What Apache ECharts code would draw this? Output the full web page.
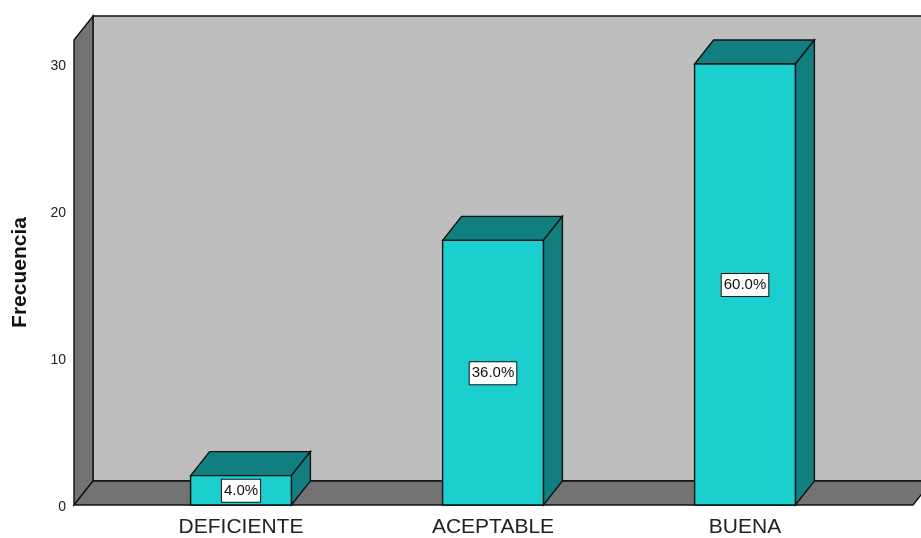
<!DOCTYPE html>
<html>
<head>
<meta charset="utf-8">
<style>html,body{margin:0;padding:0;background:#fff}#c{width:921px;height:538px}</style>
<script src="https://cdn.jsdelivr.net/npm/echarts@6/dist/echarts.min.js"></script>
</head>
<body>
<div id="c"></div>
<script>
const categories = ['DEFICIENTE', 'ACEPTABLE', 'BUENA'];
const frequencies = [2, 18, 30];
const percentLabels = ['4.0%', '36.0%', '60.0%'];
const yTicks = [0, 10, 20, 30];

const FONT = '"Liberation Sans", Arial, sans-serif';
const DX = 19, DY = -24, FLOOR_PAD = 41;
const INK = '#111111', LW = 1.4;
const wallDark = '#737373', wallBack = '#bebebe';
const faceFront = '#1bcfcf', faceDark = '#117f7f';

function poly(points, fill, z2) {
  return { type: 'polygon', z2: z2 || 0, shape: { points }, style: { fill, stroke: INK, lineWidth: LW, lineJoin: 'miter' } };
}

function renderRoom(params, api) {
  const cs = params.coordSys;
  const y0 = api.coord([0, 0])[1];
  const yTop = cs.y;
  const xl = cs.x - FLOOR_PAD;
  const xr = cs.x + cs.width + FLOOR_PAD + 1;
  return {
    type: 'group',
    children: [
      poly([[xl + DX, yTop + DY], [xr + DX, yTop + DY], [xr + DX, y0 + DY], [xl + DX, y0 + DY]], wallBack),
      poly([[xl, yTop], [xl + DX, yTop + DY], [xl + DX, y0 + DY], [xl, y0]], wallDark),
      poly([[xl, y0], [xr, y0], [xr + DX, y0 + DY], [xl + DX, y0 + DY]], wallDark)
    ]
  };
}

function renderBar(params, api) {
  const i = api.value(0);
  const v = api.value(1);
  const c = api.coord([i, v]);
  const y0 = api.coord([i, 0])[1];
  const w = api.size([1, 0])[0] * 0.4;
  const l = c[0] - w / 2, r = c[0] + w / 2, t = c[1];
  return {
    type: 'group',
    children: [
      poly([[l, t], [l + DX, t + DY], [r + DX, t + DY], [r, t]], faceDark),
      poly([[r, t], [r + DX, t + DY], [r + DX, y0 + DY], [r, y0]], faceDark),
      poly([[l, t], [r, t], [r, y0], [l, y0]], faceFront),
      {
        type: 'text',
        z2: 5,
        x: c[0],
        y: (t + y0) / 2 + 0.5,
        style: {
          text: percentLabels[params.dataIndex],
          font: '15px ' + FONT,
          fill: '#111',
          align: 'center',
          verticalAlign: 'middle',
          backgroundColor: '#fff',
          borderColor: INK,
          borderWidth: 1,
          padding: [4, 2, 3, 2]
        }
      }
    ]
  };
}

const chart = echarts.init(document.getElementById('c'), null, { renderer: 'canvas' });
chart.setOption({
  animation: false,
  backgroundColor: '#fff',
  grid: { left: 115, right: 50, top: 40, bottom: 33, outerBoundsMode: 'none', containLabel: false },
  xAxis: {
    type: 'category',
    data: categories,
    axisLine: { show: false },
    axisTick: { show: false },
    axisLabel: { color: '#222', fontFamily: FONT, fontSize: 21, margin: 12 }
  },
  yAxis: {
    type: 'value',
    min: 0,
    max: 31.63,
    interval: 10,
    splitLine: { show: false },
    axisLine: { show: false },
    axisTick: { show: false },
    axisLabel: {
      margin: 49,
      verticalAlignMinLabel: 'middle',
      verticalAlignMaxLabel: 'middle',
      customValues: yTicks,
      formatter: '{t|{value}}',
      rich: { t: { color: '#222', fontFamily: FONT, fontSize: 14, padding: [4, 0, 0, 0] } }
    },
    name: 'Frecuencia',
    nameLocation: 'middle',
    nameGap: 84,
    nameMoveOverlap: false,
    nameRotate: 90,
    nameTextStyle: { color: '#111', fontFamily: FONT, fontSize: 21, fontWeight: 'bold' }
  },
  series: [
    { type: 'custom', z: 1, silent: true, renderItem: renderRoom, data: [[0, 0]], encode: { x: 0, y: 1 } },
    { type: 'custom', z: 2, silent: true, renderItem: renderBar, data: categories.map((c, i) => [i, frequencies[i]]), encode: { x: 0, y: 1 } }
  ]
});
</script>
</body>
</html>
